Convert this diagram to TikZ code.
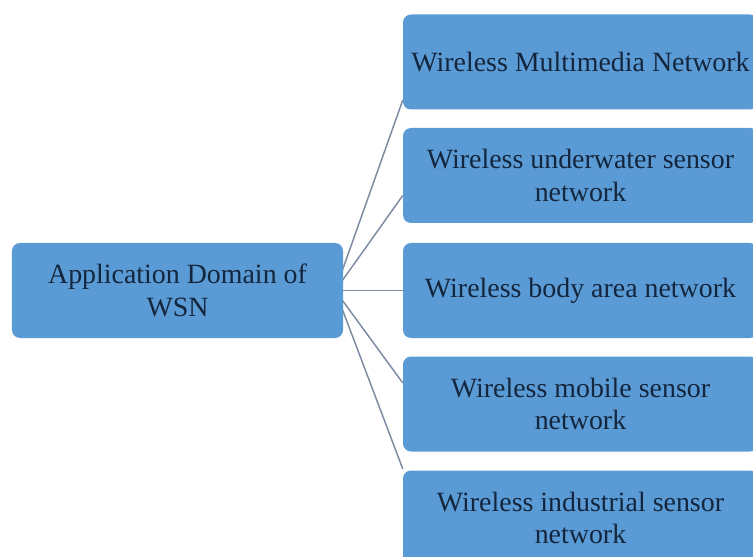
\documentclass[tikz,border=0pt]{standalone}
\usepackage{fontspec}
\setmainfont{Liberation Serif}
\usetikzlibrary{calc,backgrounds}
\definecolor{boxblue}{HTML}{5B9BD5}
\definecolor{txtc}{HTML}{14263D}
\definecolor{connc}{HTML}{7F8DA3}
\begin{document}
\begin{tikzpicture}[x=1bp,y=-1bp,
  box/.style={fill=boxblue, rounded corners=8bp, align=center, text=txtc,
    font=\fontsize{28}{33}\selectfont, inner sep=0pt},
  leaf/.style={box, minimum width=355bp, minimum height=95bp},
  conn/.style={draw=connc, line width=1.5bp}]
\useasboundingbox (0,0) rectangle (753,557);
\clip (0,0) rectangle (753,557);
\node[box, minimum width=331bp, minimum height=95bp] (root) at (177.5,290.5) {Application Domain of\\WSN};
\node[leaf] (b1) at (580.5,62) {Wireless Multimedia Network};
\node[leaf] (b2) at (580.5,175.5) {Wireless underwater sensor\\network};
\node[leaf] (b3) at (580.5,290.5) {Wireless body area network};
\node[leaf] (b4) at (580.5,404) {Wireless mobile sensor\\network};
\node[leaf] (b5) at (580.5,518) {Wireless industrial sensor\\network};
\coordinate (hub) at ($(root.east)+(-8,0)$);
\begin{scope}[on background layer]
\draw[conn] (hub) -- ($(b1.west)+(0,38)$);
\draw[conn] (hub) -- ($(b2.west)+(0,20)$);
\draw[conn] (hub) -- (b3.west);
\draw[conn] (hub) -- ($(b4.west)+(0,-21)$);
\draw[conn] (hub) -- ($(b5.west)+(0,-49)$);
\end{scope}
\end{tikzpicture}
\end{document}
